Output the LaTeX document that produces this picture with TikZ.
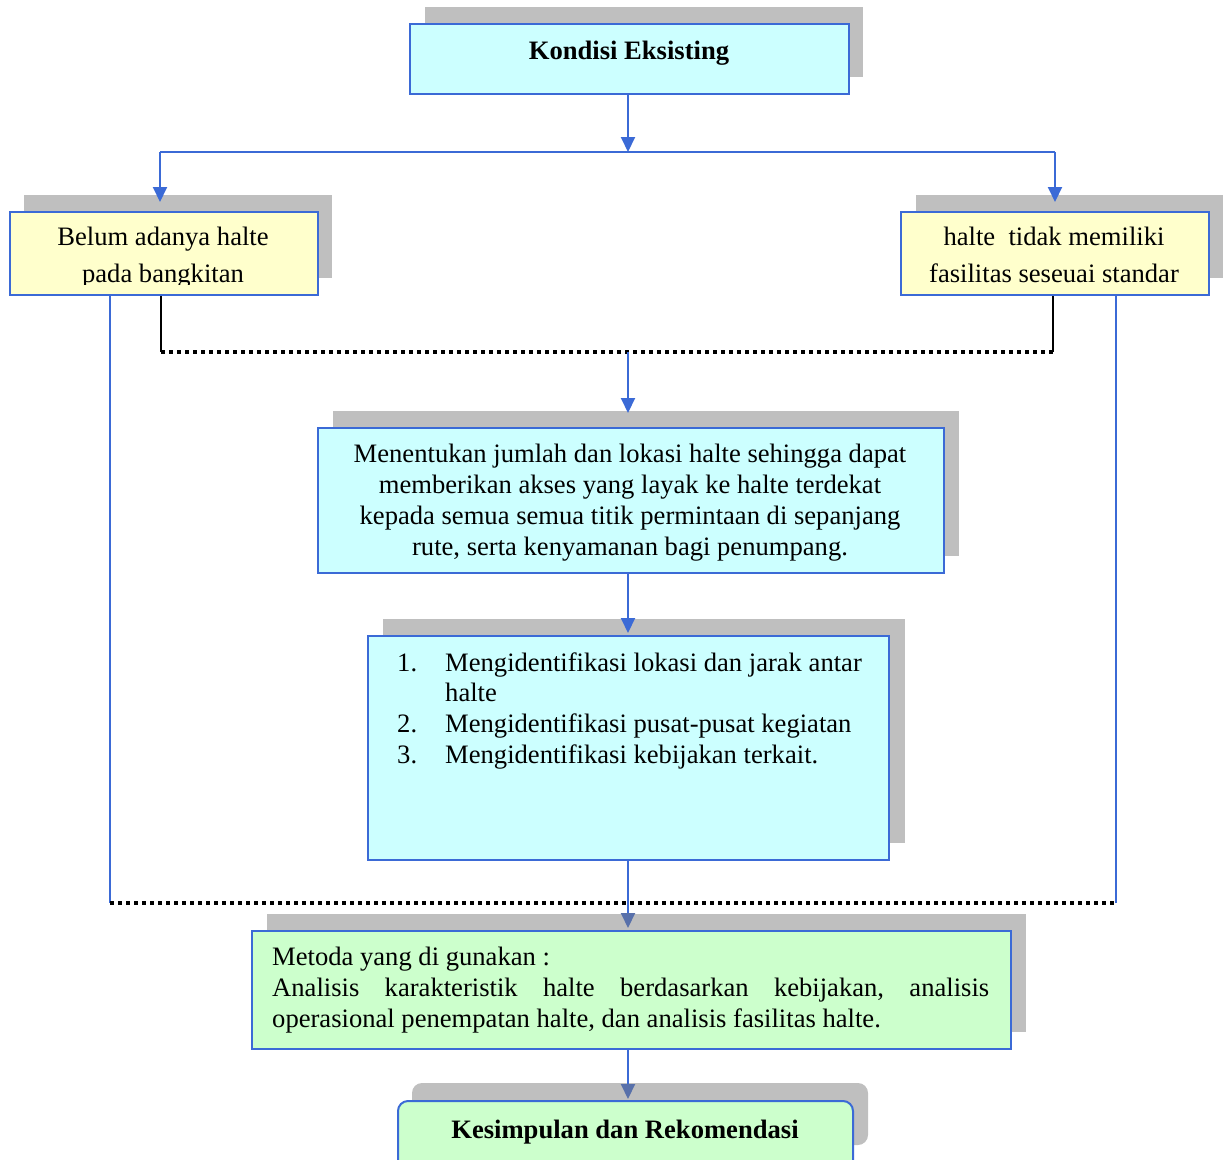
\documentclass[tikz,border=0pt]{standalone}
\usepackage{fontspec}
\setmainfont{Liberation Serif}
\usetikzlibrary{arrows.meta}
\definecolor{bblue}{RGB}{59,106,214}
\definecolor{tipblue}{RGB}{88,112,170}
\definecolor{shad}{RGB}{191,191,191}
\definecolor{cyanf}{RGB}{204,255,255}
\definecolor{yellf}{RGB}{255,255,204}
\definecolor{greenf}{RGB}{204,255,204}
\tikzset{
  box/.style={draw=bblue, line width=2pt, inner sep=0pt, anchor=north west},
  txt/.style={inner sep=0pt, anchor=base},
  txtl/.style={inner sep=0pt, anchor=base west},
  conn/.style={draw=bblue, line width=2pt},
  arr/.style={conn, -{Triangle[width=14pt,length=15pt]}},
  arrg/.style={conn, -{Triangle[width=14pt,length=15pt,fill=tipblue,color=tipblue]}},
  blk/.style={draw=black, line width=2pt},
  dots/.style={draw=black, line width=3.5pt, dash pattern=on 4pt off 4pt},
}
\begin{document}
\begin{tikzpicture}[x=1pt,y=-1pt,font={\fontsize{26.6pt}{31pt}\selectfont}]
\useasboundingbox (0,0) rectangle (1223,1159);
% shadows
\fill[shad] (425,7) rectangle (863,77);
\fill[shad] (24,195) rectangle (332,278);
\fill[shad] (916,195) rectangle (1223,278);
\fill[shad] (333,411) rectangle (959,556);
\fill[shad] (383,619) rectangle (905,843);
\fill[shad] (267,914) rectangle (1026,1032);
\fill[shad, rounded corners=10pt] (412,1083) rectangle (868,1145);
% boxes
\node[box, fill=cyanf, minimum width=439pt, minimum height=70pt] (kond) at (409,23) {};
\node[box, fill=yellf, minimum width=308pt, minimum height=83pt] (left) at (9,211) {};
\node[box, fill=yellf, minimum width=308pt, minimum height=83pt] (right) at (900,211) {};
\node[box, fill=cyanf, minimum width=626pt, minimum height=145pt] (mid) at (317,427) {};
\node[box, fill=cyanf, minimum width=521pt, minimum height=224pt] (list) at (367,635) {};
\node[box, fill=greenf, minimum width=759pt, minimum height=118pt] (meth) at (251,930) {};
\node[box, fill=greenf, rounded corners=10pt, minimum width=455pt, minimum height=80pt] (kes) at (397,1100) {};
% texts
\node[txt, font={\fontsize{26.6pt}{31pt}\selectfont\bfseries}] (tkond) at (629,59) {Kondisi Eksisting};
\begin{scope}
\clip (9,211) rectangle (317,284);
\node[txt] (tl1) at (163,245) {Belum adanya halte};
\node[txt] (tl2) at (163,282) {pada bangkitan};
\end{scope}
\node[txt] (tr1) at (1054,245) {halte\ \ tidak memiliki};
\node[txt] (tr2) at (1054,282) {fasilitas seseuai standar};
\node[txt] (tm1) at (630,462) {Menentukan jumlah dan lokasi halte sehingga dapat};
\node[txt] (tm2) at (630,493) {memberikan akses yang layak ke halte terdekat};
\node[txt] (tm3) at (630,524) {kepada semua semua titik permintaan di sepanjang};
\node[txt] (tm4) at (630,555) {rute, serta kenyamanan bagi penumpang.};
\node[txtl] (n1) at (397,671) {1.};
\node[txtl] (i1) at (445,671) {Mengidentifikasi lokasi dan jarak antar};
\node[txtl] (i1b) at (445,701) {halte};
\node[txtl] (n2) at (397,732) {2.};
\node[txtl] (i2) at (445,732) {Mengidentifikasi pusat-pusat kegiatan};
\node[txtl] (n3) at (397,763) {3.};
\node[txtl] (i3) at (445,763) {Mengidentifikasi kebijakan terkait.};
\node[txtl] (g1) at (272,965) {Metoda yang di gunakan :};
\node[txtl] (g2) at (272,996) {\hbox to 717pt{Analisis\hfill karakteristik\hfill halte\hfill berdasarkan\hfill kebijakan,\hfill analisis}};
\node[txtl] (g3) at (272,1027) {operasional penempatan halte, dan analisis fasilitas halte.};
\node[txt, font={\fontsize{26.6pt}{31pt}\selectfont\bfseries}] (tkes) at (625,1138) {Kesimpulan dan Rekomendasi};
% coordinates
\coordinate (ax) at (628,0);
\coordinate (split) at (628,152);
\coordinate (sl) at (160,152);
\coordinate (sr) at (1055,152);
\coordinate (bl) at (161,352);
\coordinate (br) at (1053,352);
\coordinate (dl) at (110,903);
\coordinate (dr) at (1116,903);
% connectors
\draw[arr] (kond.south -| ax) -- (split);
\draw[conn] (sl) -- (sr);
\draw[arr] (sl) -- ++(0,50);
\draw[arr] (sr) -- ++(0,50);
\draw[blk] (left.south -| bl) -- (bl);
\draw[blk] (right.south -| br) -- (br);
\draw[dots] (bl) -- (br);
\draw[arr, shorten >=14pt] (mid.north -| ax) ++(0,-75) -- (mid.north -| ax);
\draw[arr, shorten >=2pt] (mid.south -| ax) -- (list.north -| ax);
\draw[conn] (left.south -| dl) -- (dl);
\draw[conn] (right.south -| dr) -- (dr);
\draw[dots] (dl) -- (dr);
\draw[arrg, shorten >=2pt] (list.south -| ax) -- (meth.north -| ax);
\draw[arrg, shorten >=1pt] (meth.south -| ax) -- (kes.north -| ax);
\end{tikzpicture}
\end{document}
